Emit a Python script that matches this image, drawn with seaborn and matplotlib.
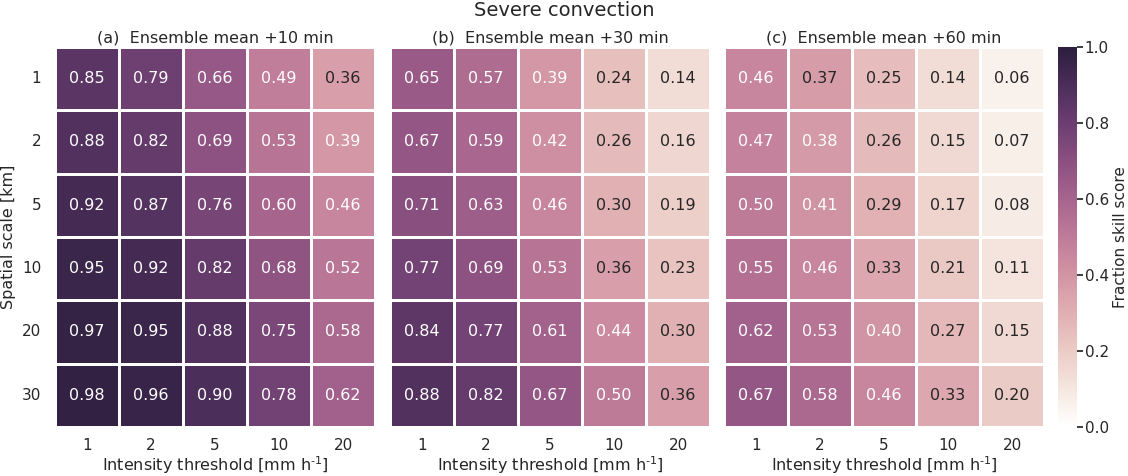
import numpy as np
import pandas as pd
import matplotlib
matplotlib.use("Agg")
import matplotlib.pyplot as plt
import seaborn as sns

thresholds = ["1", "2", "5", "10", "20"]
scales = ["1", "2", "5", "10", "20", "30"]
titles = ["(a)  Ensemble mean +10 min", "(b)  Ensemble mean +30 min", "(c)  Ensemble mean +60 min"]

fss_10 = [
    [0.85, 0.79, 0.66, 0.49, 0.36],
    [0.88, 0.82, 0.69, 0.53, 0.39],
    [0.92, 0.87, 0.76, 0.60, 0.46],
    [0.95, 0.92, 0.82, 0.68, 0.52],
    [0.97, 0.95, 0.88, 0.75, 0.58],
    [0.98, 0.96, 0.90, 0.78, 0.62],
]
fss_30 = [
    [0.65, 0.57, 0.39, 0.24, 0.14],
    [0.67, 0.59, 0.42, 0.26, 0.16],
    [0.71, 0.63, 0.46, 0.30, 0.19],
    [0.77, 0.69, 0.53, 0.36, 0.23],
    [0.84, 0.77, 0.61, 0.44, 0.30],
    [0.88, 0.82, 0.67, 0.50, 0.36],
]
fss_60 = [
    [0.46, 0.37, 0.25, 0.14, 0.06],
    [0.47, 0.38, 0.26, 0.15, 0.07],
    [0.50, 0.41, 0.29, 0.17, 0.08],
    [0.55, 0.46, 0.33, 0.21, 0.11],
    [0.62, 0.53, 0.40, 0.27, 0.15],
    [0.67, 0.58, 0.46, 0.33, 0.20],
]

sns.set_theme(style="ticks", font_scale=1.0)
plt.rcParams['font.family'] = ['DejaVu Sans']

cmap = sns.cubehelix_palette(light=1.0, dark=0.15, as_cmap=True)

fig = plt.figure(figsize=(11.28, 4.76), dpi=100)
W, H = 1128, 476
bottom = 1 - 427 / H
height = (427 - 47) / H
lefts = [55, 390, 724]
width_px = 320
axes = [fig.add_axes([l / W, bottom, width_px / W, height]) for l in lefts]
cax = fig.add_axes([1058 / W, bottom, 19 / W, height])

for i, (ax, data, title) in enumerate(zip(axes, [fss_10, fss_30, fss_60], titles)):
    df = pd.DataFrame(data, index=scales, columns=thresholds)
    sns.heatmap(df, ax=ax, cmap=cmap, vmin=0, vmax=1, annot=True, fmt=".2f",
                linewidths=1, linecolor="white",
                annot_kws={"fontsize": 11.5},
                cbar=(i == 2), cbar_ax=cax if i == 2 else None)
    ax.set_title(title, fontsize=11.5, pad=3)
    ax.set_xlabel("Intensity threshold [mm h$^{\\text{-}1}$]", fontsize=11.5, labelpad=1)
    ax.tick_params(axis="x", length=0, labelsize=11, pad=8)
    ax.tick_params(axis="y", length=0, labelsize=11, pad=10)
    ax.set_yticklabels(ax.get_yticklabels(), rotation=0)
    if i == 0:
        ax.set_ylabel("Spatial scale [km]", fontsize=11.5, labelpad=4)
    else:
        ax.set_ylabel("")
        ax.set_yticklabels([])

cax.tick_params(labelsize=11, pad=1.5, length=4)
cax.set_ylabel("Fraction skill score", fontsize=11, labelpad=3)
for sp in cax.spines.values():
    sp.set_visible(False)

fig.suptitle("Severe convection", fontsize=14, y=0.998)
fig.savefig("out.png", dpi=100)
